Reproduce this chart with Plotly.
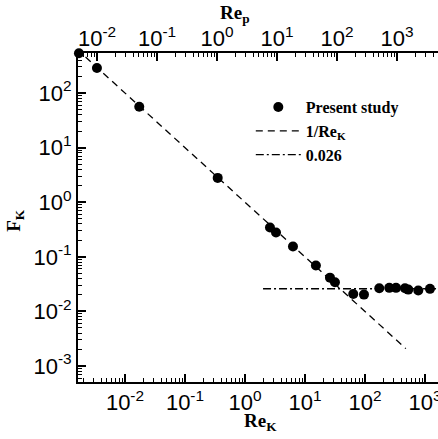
import plotly.graph_objects as go

# ---------------- data ----------------
re_k = [1.71e-3, 3.41e-3, 0.0173, 0.351, 2.61, 3.29, 6.31, 15.2, 26.1, 31.6,
        63.8, 96.2, 173, 254, 329, 464, 527, 773, 1211]
f_k = [537, 287, 56.0, 2.79, 0.345, 0.279, 0.155, 0.0692, 0.0415, 0.0342,
       0.0209, 0.0203, 0.0265, 0.0270, 0.0270, 0.0265, 0.0251, 0.0241, 0.0259]

# reference line 1/Re_K (endpoints)
inv_re = [2.2e-3, 480]
inv_f = [455, 2.08e-3]

# constant line 0.026
const_re = [2.0, 2000]
const_f = [0.026, 0.026]

major_vals = [1e-3, 1e-2, 1e-1, 1e0, 1e1, 1e2, 1e3]
major_text = ["10<sup>-3</sup>", "10<sup>-2</sup>", "10<sup>-1</sup>", "10<sup>0</sup>",
              "10<sup>1</sup>", "10<sup>2</sup>", "10<sup>3</sup>"]
minor_vals = [k * 10.0 ** d for d in range(-4, 4) for k in range(2, 10)]

W, H = 438, 439
L, R, T, B = 78, 0, 53, 57

tick_font = dict(family="Liberation Sans, Arial", size=22, color="black")
serif_b = "Liberation Serif, Times New Roman"

fig = go.Figure()
fig.add_trace(go.Scatter(x=re_k, y=f_k, mode="markers", name="<b>Present study</b>",
                         marker=dict(size=10, color="black"), cliponaxis=False))
fig.add_trace(go.Scatter(x=inv_re, y=inv_f, mode="lines", name="<b>1/Re<sub>K</sub></b>",
                         line=dict(color="black", width=1.3, dash="7px,5px")))
fig.add_trace(go.Scatter(x=const_re, y=const_f, mode="lines", name="<b>0.026</b>",
                         line=dict(color="black", width=1.3, dash="8px,3px,2px,3px")))
# dummy trace for top axis
fig.add_trace(go.Scatter(x=[1e-2], y=[1e-2], xaxis="x2", mode="markers",
                         marker=dict(opacity=0), showlegend=False, hoverinfo="skip"))

axis_common = dict(type="log", showgrid=False, zeroline=False, showline=True,
                   automargin=False, ticklabeloverflow="allow",
                   linecolor="black", linewidth=2, ticks="inside", ticklen=8,
                   tickwidth=1.5, tickcolor="black", tickmode="array",
                   tickvals=major_vals, ticktext=major_text, tickfont=tick_font,
                   minor=dict(ticks="inside", ticklen=4, tickwidth=1, tickcolor="black",
                              tickmode="array", tickvals=minor_vals))

fig.update_layout(
    width=W, height=H, margin=dict(l=L, r=R, t=T, b=B),
    paper_bgcolor="white", plot_bgcolor="white",
    xaxis=dict(range=[-2.783, 3.217], **axis_common),
    xaxis2=dict(range=[-2.317, 3.683], overlaying="x", side="top",
                ticklabelstandoff=-4, **axis_common),
    yaxis=dict(range=[-3.293, 2.733], **axis_common),
    legend=dict(x=0.48, y=0.887, xanchor="left", yanchor="top",
                bgcolor="rgba(0,0,0,0)", itemwidth=45, tracegroupgap=0,
                font=dict(family=serif_b, size=16, color="black")),
    annotations=[
        dict(text="<b>Re<sub>K</sub></b>", xref="paper", yref="paper", x=0.508, y=-0.123,
             xanchor="center", yanchor="middle", showarrow=False,
             font=dict(family=serif_b, size=19, color="black")),
        dict(text="<b>Re<sub>p</sub></b>", xref="paper", yref="paper", x=0.435, y=1.12,
             xanchor="center", yanchor="middle", showarrow=False,
             font=dict(family=serif_b, size=19, color="black")),
        dict(text="<b>F<sub>K</sub></b>", xref="paper", yref="paper", x=-0.175, y=0.49,
             xanchor="center", yanchor="middle", showarrow=False, textangle=-90,
             font=dict(family=serif_b, size=19, color="black")),
    ],
)

fig.write_html("out.html", config={"displayModeBar": False},
               post_script="document.body.style.margin='0';document.body.style.overflow='hidden';")
